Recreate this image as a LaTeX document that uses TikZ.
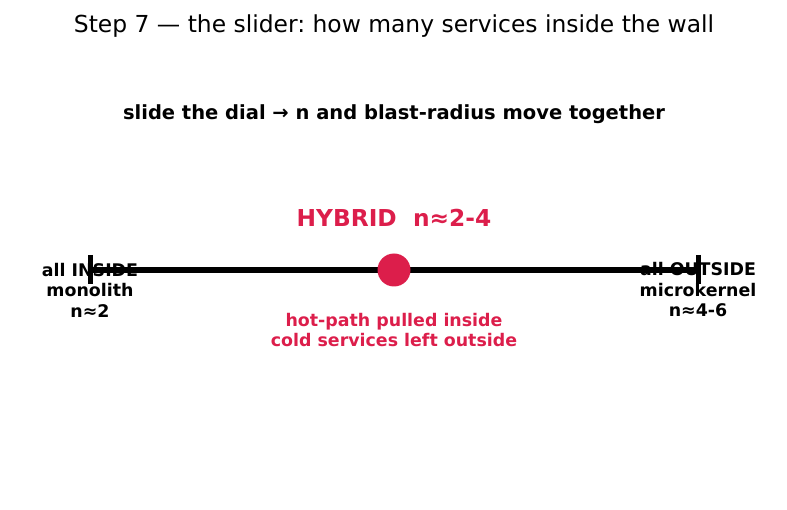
\documentclass[tikz,border=0pt]{standalone}
\usepackage{fontspec}
\setmainfont{DejaVu Sans}
\frenchspacing
\definecolor{hyb}{RGB}{220,30,75}
\begin{document}
\begin{tikzpicture}[x=1pt,y=-1pt,
  lbl/.style={font=\bfseries\fontsize{17.4}{20.5}\selectfont,align=center,inner sep=0pt},
  tickmark/.style={line width=5pt},
]
\useasboundingbox (0,0) rectangle (787,510);
\node[inner sep=0pt,font=\fontsize{23.4}{27}\selectfont] (title) at (394,26) {Step 7 — the slider: how many services inside the wall};
\node[inner sep=0pt,font=\bfseries\fontsize{19.5}{23}\selectfont] (sub) at (394,114) {slide the dial → n and blast-radius move together};
\coordinate (L) at (90,270);
\coordinate (R) at (698,270);
\coordinate (Lt) at (90,255);
\coordinate (Lb) at (90,284);
\coordinate (Rt) at (698,255);
\coordinate (Rb) at (698,284);
\draw[line width=5.5pt] (L) -- (R);
\draw[tickmark] (Lt) -- (Lb);
\draw[tickmark] (Rt) -- (Rb);
\node[circle,fill=hyb,minimum size=33pt,inner sep=0pt] (dial) at (394,270) {};
\node[inner sep=0pt,text=hyb,font=\bfseries\fontsize{23.3}{27}\selectfont] (hyb) at (394,218) {HYBRID\ \ n≈2-4};
\node[lbl,text=hyb] (hot) at (394,330) {hot-path pulled inside\\cold services left outside};
\node[lbl] (left) at (90,290) {all INSIDE\\monolith\\n≈2};
\node[lbl] (right) at (698,290) {all OUTSIDE\\microkernel\\n≈4-6};
\end{tikzpicture}
\end{document}
